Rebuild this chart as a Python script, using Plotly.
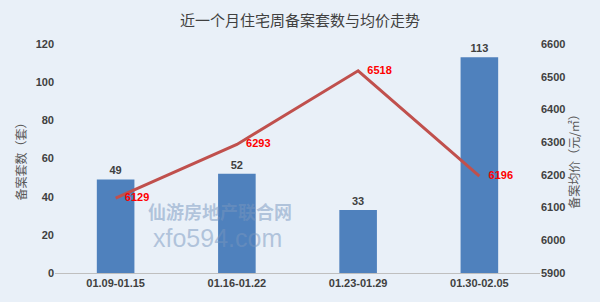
import plotly.graph_objects as go

categories = ["01.09-01.15", "01.16-01.22", "01.23-01.29", "01.30-02.05"]
units = [49, 52, 33, 113]
avg_price = [6129, 6293, 6518, 6196]

fig = go.Figure()
fig.add_trace(go.Bar(
    x=categories, y=units, marker=dict(color="#4f81bd", line=dict(width=0)),
    width=0.31, text=[str(v) for v in units], textposition="outside",
    textfont=dict(family="Liberation Sans", size=11, color="#404040", weight="bold"),
    cliponaxis=False, yaxis="y", showlegend=False))
fig.add_trace(go.Scatter(
    x=categories, y=avg_price, mode="lines+text", line=dict(color="#c0504d", width=3),
    text=["   " + str(v) for v in avg_price], textposition="middle right",
    textfont=dict(family="Liberation Sans", size=11, color="#ff0000", weight="bold"),
    cliponaxis=False, yaxis="y2", showlegend=False))

# watermark
fig.add_annotation(x=0.34, y=0.205, xref="paper", yref="paper", text="仙游房地产联合网",
                   showarrow=False, font=dict(family="Noto Sans CJK SC", size=18, color="rgba(120,150,190,0.5)", weight="bold"))
fig.add_annotation(x=0.335, y=0.085, xref="paper", yref="paper", text="xfo594.com",
                   showarrow=False, font=dict(family="Liberation Sans", size=25, color="rgba(120,150,190,0.5)"))

fig.update_layout(
    width=600, height=302,
    margin=dict(l=55, r=60, t=44, b=29),
    paper_bgcolor="#e9f0f8", plot_bgcolor="rgba(0,0,0,0)",
    title=dict(text="近一个月住宅周备案套数与均价走势", x=0.5, xanchor="center", y=0.93, yanchor="middle",
               font=dict(family="Noto Sans CJK SC", size=15, color="#404040")),
    xaxis=dict(showline=True, linecolor="#bfbfbf", linewidth=1, ticks="",
               tickfont=dict(family="Liberation Sans", size=11, color="#404040", weight="bold"), showgrid=False),
    yaxis=dict(range=[0, 120], dtick=20, showgrid=False, zeroline=False, ticks="",
               tickfont=dict(family="Liberation Sans", size=11, color="#404040", weight="bold"),
               title=dict(text="备案套数（套）", standoff=6, font=dict(family="Noto Sans CJK SC", size=12, color="#595959"))),
    yaxis2=dict(range=[5900, 6600], dtick=100, overlaying="y", side="right", showgrid=False, zeroline=False, ticks="",
                tickfont=dict(family="Liberation Sans", size=11, color="#404040", weight="bold"),
                title=dict(text="备案均价（元/㎡）", standoff=2, font=dict(family="Noto Sans CJK SC", size=12, color="#595959"))),
)
fig.write_html("out.html")
